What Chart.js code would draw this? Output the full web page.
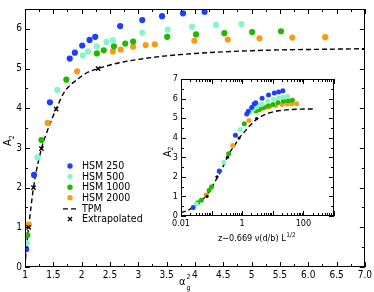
<!DOCTYPE html>
<html><head><meta charset="utf-8">
<script src="https://cdn.jsdelivr.net/npm/chart.js@4.4.1/dist/chart.umd.min.js"></script>
<style>
html,body{margin:0;padding:0;background:#fff;}
#wrap{position:relative;width:374px;height:292px;overflow:hidden;}
#main{position:absolute;left:0;top:0;width:374px;height:292px;}
#inset{position:absolute;left:140px;top:70px;width:210px;height:180px;}
</style></head><body>
<div id="wrap"><canvas id="main" width="374" height="292"></canvas><canvas id="inset" width="210" height="180"></canvas></div>
<script>
// ---------- main panel data (x = alpha_g^2, y = A2) ----------
const seriesNames = ['HSM 250','HSM 500','HSM 1000','HSM 2000','TPM','Extrapolated'];
const hsm250X  = [1.02,1.16,1.44,1.79,1.88,2.01,2.14,2.24,2.68,3.07,3.42,3.79,4.17];
const hsm250Y  = [0.45,2.32,4.15,5.25,5.40,5.58,5.72,5.80,6.07,6.22,6.32,6.39,6.43];
const hsm500X  = [1.03,1.22,1.57,2.02,2.11,2.27,2.44,2.55,3.07,3.52,3.95,4.37,4.82];
const hsm500Y  = [0.60,2.76,4.46,5.33,5.43,5.56,5.67,5.71,5.90,5.98,6.05,6.10,6.12];
const hsm1000X = [1.04,1.29,1.73,2.27,2.39,2.57,2.77,2.91,3.51,4.02,4.52,5.01,5.52];
const hsm1000Y = [0.80,3.20,4.72,5.38,5.46,5.56,5.63,5.68,5.80,5.86,5.89,5.92,5.94];
const hsm2000X = [1.065,1.40,1.92,2.55,2.69,2.91,3.13,3.29,3.99,4.58,5.14,5.72,6.30];
const hsm2000Y = [1.07,3.63,4.93,5.43,5.48,5.55,5.59,5.61,5.70,5.73,5.76,5.78,5.79];
const tpmX = [1.0,1.02,1.065,1.15,1.29,1.4,1.55,1.7,1.9,2.1,2.29,2.5,2.75,3.0,3.5,4.0,4.5,5.0,5.5,6.0,6.5,7.0];
const tpmY = [0.0,0.4,1.0,2.0,2.98,3.45,3.98,4.42,4.70,4.90,5.00,5.09,5.17,5.23,5.32,5.38,5.42,5.45,5.47,5.48,5.49,5.50];
const extrapX = [1.065,1.15,1.29,1.55,2.29];
const extrapY = [1.0,2.0,2.98,3.98,5.0];
const xTickVals = [1,1.5,2,2.5,3,3.5,4,4.5,5,5.5,6,6.5,7];
const xTickLabels = ['1','1.5','2','2.5','3','3.5','4','4.5','5','5.5','6.0','6.5','7.0'];
const yTickVals = [0,1,2,3,4,5,6];
const yTickLabels = ['0','1','2','3','4','5','6'];

// ---------- inset data (x = z-0.669 nu(d/b) L^1/2, log scale; y = A2) ----------
const in250X  = [0.025,0.178,0.60,1.41,1.58,2.04,2.45,2.75,4.47,7.24,11.2,15.5,21.4];
const in250Y  = [0.44,2.30,4.12,5.21,5.35,5.55,5.72,5.79,6.02,6.18,6.28,6.34,6.40];
const in500X  = [0.032,0.25,0.87,1.78,2.29,2.95,3.80,4.47,6.92,10.5,15.5,21.4,30.2];
const in500Y  = [0.60,2.74,4.42,5.30,5.45,5.57,5.68,5.71,5.88,5.97,6.03,6.07,6.10];
const in1000X = [0.035,0.046,0.083,0.10,0.36,1.17,2.82,3.55,5.0,7.08,10,14.8,22.4,31.6,43.7];
const in1000Y = [0.68,0.80,1.32,1.49,3.18,4.71,5.36,5.44,5.55,5.63,5.70,5.80,5.86,5.89,5.92];
const in2000X = [0.066,0.49,1.66,3.16,3.98,5.01,6.31,7.94,12.6,20,29.5,41.7,60.3];
const in2000Y = [1.07,3.60,4.88,5.40,5.46,5.52,5.56,5.59,5.65,5.70,5.72,5.74,5.74];
const inTpmX = [0.01,0.02,0.04,0.063,0.1,0.158,0.25,0.36,0.56,0.79,1.26,2.0,3.16,6.3,12.6,28,79,250];
const inTpmY = [0.17,0.35,0.70,1.0,1.45,2.0,2.6,3.15,3.6,3.97,4.35,4.7,4.97,5.22,5.35,5.42,5.46,5.47];
const inExtrapX = [0.071,0.15,0.33,0.79,2.95];
const inExtrapY = [1.0,2.0,3.0,3.98,4.98];
const inXTickVals = [0.01,1,100];
const inXTickLabels = ['0.01','1','100'];
const inYTickVals = [0,1,2,3,4,5,6,7];
const inYTickLabels = ['0','1','2','3','4','5','6','7'];

const colors = ['#1f3cff','#85f7c4','#22b800','#ff9812'];
const FAM = "'DejaVu Sans Condensed','DejaVu Sans',sans-serif";
const zip = (xs, ys) => xs.map((x, i) => ({x, y: ys[i]}));

function pointSet(label, xs, ys, color, r){
  return {label, data: zip(xs, ys), backgroundColor: color, borderColor: color,
    pointRadius: r, pointBorderWidth: 0, showLine: false, order: 2};
}

function makeDatasets(sets, tX, tY, eX, eY, r, extrapStyle){
  const ds = sets.map((s, i) => pointSet(seriesNames[i], s[0], s[1], colors[i], r));
  ds.push({label: seriesNames[4], type: 'line', data: zip(tX, tY), borderColor: '#000',
    borderWidth: 1.4, borderDash: [5, 3], pointRadius: 0, fill: false,
    cubicInterpolationMode: 'monotone', order: 5});
  ds.push(Object.assign({label: seriesNames[5], data: zip(eX, eY), showLine: false, order: 0,
    borderColor: '#000', backgroundColor: '#000'}, extrapStyle));
  return ds;
}

// plugin: frame + inward ticks on all 4 sides
function tickPlugin(kind){
  return {id: 'ticks_' + kind, afterDraw(chart){
    const ctx = chart.ctx, ca = chart.chartArea, xs = chart.scales.x, ys = chart.scales.y;
    ctx.save();
    ctx.strokeStyle = '#000'; ctx.lineWidth = 1;
    ctx.strokeRect(Math.round(ca.left) + 0.5, Math.round(ca.top) + 0.5,
      Math.round(ca.right - ca.left) - 1, Math.round(ca.bottom - ca.top) - 1);
    ctx.beginPath();
    const vt = (v, len) => { const p = Math.round(xs.getPixelForValue(v)) + 0.5;
      ctx.moveTo(p, ca.bottom); ctx.lineTo(p, ca.bottom - len);
      ctx.moveTo(p, ca.top); ctx.lineTo(p, ca.top + len); };
    const ht = (v, len) => { const p = Math.round(ys.getPixelForValue(v)) + 0.5;
      ctx.moveTo(ca.left, p); ctx.lineTo(ca.left + len, p);
      ctx.moveTo(ca.right, p); ctx.lineTo(ca.right - len, p); };
    if (kind === 'main'){
      for (let v = xs.min; v <= xs.max + 1e-9; v += 0.25){
        const major = Math.abs(v * 2 - Math.round(v * 2)) < 1e-6; vt(v, major ? 5 : 3); }
    } else {
      for (let e = -2; e <= 3; e++) for (let k = 1; k <= 9; k++){
        const v = k * Math.pow(10, e); if (v < xs.min * 0.999 || v > xs.max * 1.001) continue;
        vt(v, k === 1 ? 5 : 3); }
    }
    for (let v = ys.min; v <= ys.max + 1e-9; v += 0.5){
      const major = Math.abs(v - Math.round(v)) < 1e-6; ht(v, major ? 5 : 3); }
    ctx.stroke();
    ctx.restore();
  }};
}

// plugin: axis titles for main panel + legend
const mainDeco = {id: 'mainDeco', afterDraw(chart){
  const ctx = chart.ctx;
  ctx.save(); ctx.fillStyle = '#000'; ctx.textBaseline = 'alphabetic';
  // x title alpha_g^2
  ctx.font = '11px ' + FAM; ctx.textAlign = 'left';
  ctx.fillText('α', 179, 285);
  ctx.font = '7px ' + FAM;
  ctx.fillText('2', 186.5, 279); ctx.fillText('g', 186.5, 290);
  // y title A_2
  ctx.save(); ctx.translate(11, 146); ctx.rotate(-Math.PI / 2);
  ctx.font = '11px ' + FAM; ctx.fillText('A', 0, 0);
  const w = ctx.measureText('A').width;
  ctx.font = '7px ' + FAM; ctx.fillText('2', w, 2.5);
  ctx.restore();
  // legend
  const ds = chart.data.datasets;
  const order = [0, 1, 2, 3, 4, 5];
  order.forEach((i, n) => {
    const d = ds[i], y = 166 + n * 10.6;
    if (d.type === 'line'){
      ctx.save(); ctx.strokeStyle = '#000'; ctx.lineWidth = 1.4; ctx.setLineDash([5, 3]);
      ctx.beginPath(); ctx.moveTo(63, y + 0.5); ctx.lineTo(76, y + 0.5); ctx.stroke(); ctx.restore();
    } else if (d.pointStyle === 'crossRot'){
      ctx.save(); ctx.strokeStyle = '#000'; ctx.lineWidth = 1.3; ctx.beginPath();
      ctx.moveTo(68, y - 2); ctx.lineTo(72, y + 2); ctx.moveTo(72, y - 2); ctx.lineTo(68, y + 2);
      ctx.stroke(); ctx.restore();
    } else {
      ctx.beginPath(); ctx.fillStyle = d.backgroundColor; ctx.arc(70, y, 2.7, 0, Math.PI * 2); ctx.fill();
    }
    ctx.fillStyle = '#000'; ctx.font = '10.5px ' + FAM; ctx.textBaseline = 'middle';
    ctx.fillText(d.label, 82, y + 0.5);
  });
  ctx.restore();
}};

const tickFont = {family: FAM, size: 10};

new Chart(document.getElementById('main'), {
  type: 'scatter',
  data: {datasets: makeDatasets(
    [[hsm250X, hsm250Y], [hsm500X, hsm500Y], [hsm1000X, hsm1000Y], [hsm2000X, hsm2000Y]],
    tpmX, tpmY, extrapX, extrapY, 3.1,
    {pointStyle: 'crossRot', pointRadius: 3, pointBorderWidth: 1.4})},
  options: {
    responsive: false, animation: false, events: [],
    layout: {padding: {top: 1, right: 8, left: 0, bottom: 0}},
    plugins: {legend: {display: false}, tooltip: {enabled: false}},
    scales: {
      x: {type: 'linear', min: 1, max: 7,
        afterBuildTicks: s => { s.ticks = xTickVals.map(v => ({value: v})); },
        ticks: {callback: (v, i) => xTickLabels[i], font: tickFont, color: '#000', padding: 2,
          maxRotation: 0, autoSkip: false},
        grid: {display: false, drawTicks: false}, border: {display: false},
        afterFit: s => { s.height = 25; }},
      y: {type: 'linear', min: 0, max: 6.5,
        afterBuildTicks: s => { s.ticks = yTickVals.map(v => ({value: v})); },
        ticks: {callback: (v, i) => yTickLabels[i], font: tickFont, color: '#000', padding: 3, autoSkip: false},
        grid: {display: false, drawTicks: false}, border: {display: false},
        afterFit: s => { s.width = 25; }}
    }
  },
  plugins: [tickPlugin('main'), mainDeco]
});

// inset titles
const insetDeco = {id: 'insetDeco', afterDraw(chart){
  const ctx = chart.ctx, ox = 140, oy = 70;
  ctx.save(); ctx.fillStyle = '#000'; ctx.textBaseline = 'alphabetic'; ctx.textAlign = 'left';
  ctx.font = '9px ' + FAM;
  const t = 'z\u22120.669 \u03bd(d/b) L';
  ctx.fillText(t, 218 - ox, 241 - oy);
  const w = ctx.measureText(t).width;
  ctx.font = '6.5px ' + FAM; ctx.fillText('1/2', 218 - ox + w + 0.5, 236.5 - oy);
  ctx.save(); ctx.translate(170.5 - ox, 157 - oy); ctx.rotate(-Math.PI / 2);
  ctx.font = '10.5px ' + FAM; ctx.fillText('A', 0, 0);
  const wa = ctx.measureText('A').width;
  ctx.font = '7px ' + FAM; ctx.fillText('2', wa, 2.5);
  ctx.restore();
  ctx.restore();
}};

const insetBg = {id: 'insetBg', beforeDraw(chart){
  const ca = chart.chartArea, ctx = chart.ctx;
  ctx.save(); ctx.fillStyle = '#fff'; ctx.fillRect(ca.left, ca.top, ca.right - ca.left, ca.bottom - ca.top); ctx.restore();
}};

const inFont = {family: FAM, size: 9};
new Chart(document.getElementById('inset'), {
  type: 'scatter',
  data: {datasets: makeDatasets(
    [[in250X, in250Y], [in500X, in500Y], [in1000X, in1000Y], [in2000X, in2000Y]],
    inTpmX, inTpmY, inExtrapX, inExtrapY, 2.5,
    {pointStyle: 'circle', pointRadius: 1.6, pointBorderWidth: 0})},
  options: {
    responsive: false, animation: false, events: [],
    layout: {padding: {top: 9, right: 16, left: 0, bottom: 0}},
    plugins: {legend: {display: false}, tooltip: {enabled: false}},
    scales: {
      x: {type: 'logarithmic', min: 0.01, max: 1000,
        afterBuildTicks: s => { s.ticks = inXTickVals.map(v => ({value: v})); },
        ticks: {callback: (v, i) => inXTickLabels[i], font: inFont, color: '#000', padding: 2,
          maxRotation: 0, autoSkip: false},
        grid: {display: false, drawTicks: false}, border: {display: false},
        afterFit: s => { s.height = 34; }},
      y: {type: 'linear', min: 0, max: 7,
        afterBuildTicks: s => { s.ticks = inYTickVals.map(v => ({value: v})); },
        ticks: {callback: (v, i) => inYTickLabels[i], font: inFont, color: '#000', padding: 3, autoSkip: false},
        grid: {display: false, drawTicks: false}, border: {display: false},
        afterFit: s => { s.width = 41; }}
    }
  },
  plugins: [insetBg, tickPlugin('inset'), insetDeco]
});
</script>
</body></html>
